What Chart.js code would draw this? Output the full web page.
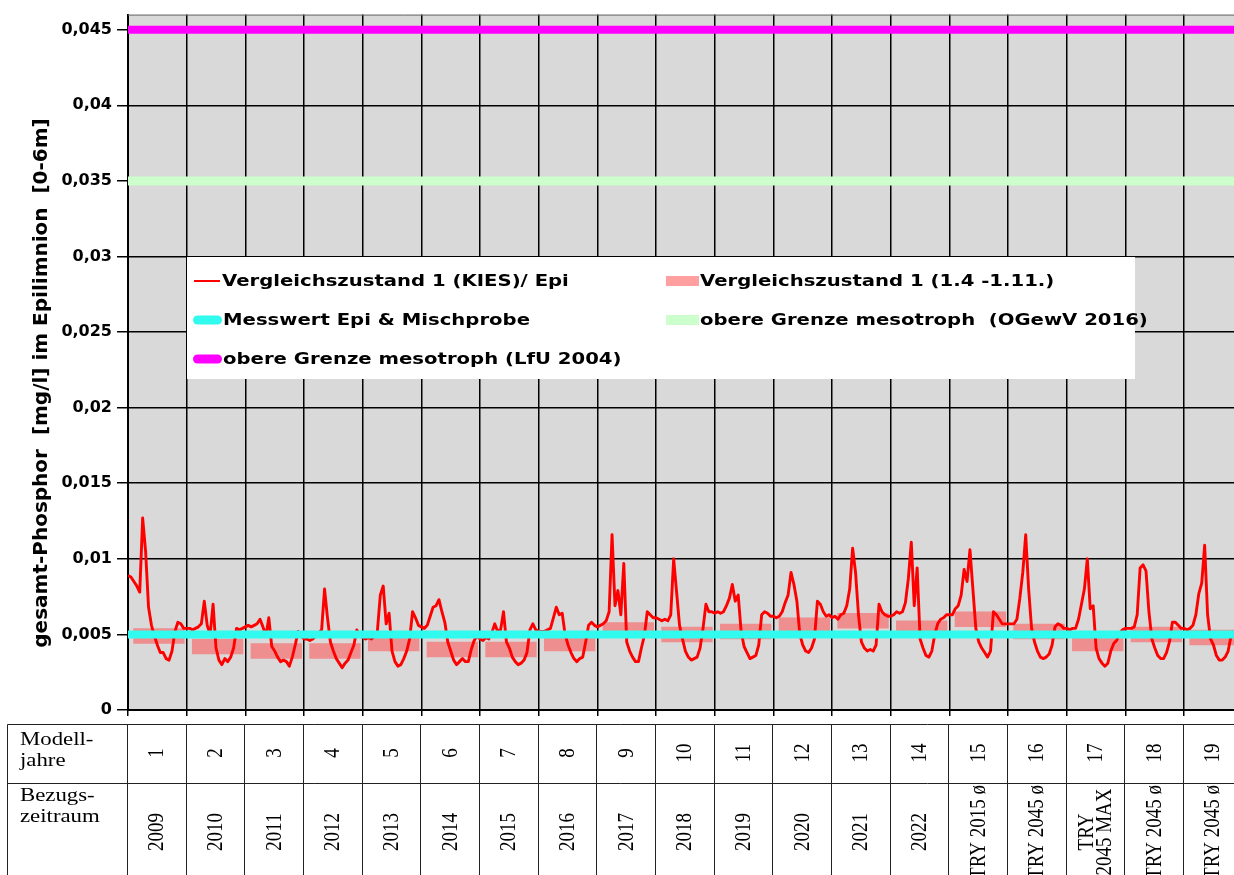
<!DOCTYPE html>
<html><head><meta charset="utf-8">
<script src="https://cdn.jsdelivr.net/npm/chart.js@4.4.1/dist/chart.umd.min.js"></script>
<style>html,body{margin:0;padding:0;background:#fff;overflow:hidden}canvas{display:block}</style>
</head><body>
<canvas id="c" width="1234" height="875" style="width:1234px;height:875px"></canvas>
<script>
// ---------- DATA ----------
const modelYears = ['1','2','3','4','5','6','7','8','9','10','11','12','13','14','15','16','17','18','19'];
const periods = ['2009','2010','2011','2012','2013','2014','2015','2016','2017','2018','2019','2020','2021','2022',
  'TRY 2015 ø','TRY 2045 ø','TRY\n2045 MAX','TRY 2045 ø','TRY 2045 ø'];
const rowLabels = [['Modell-','jahre'],['Bezugs-','zeitraum']];

// Vergleichszustand 1 (KIES)/ Epi  – 20 readings per model year [mg/l]
const epi = [
  [0.0089,0.0088,0.0085,0.0082,0.0078,0.0127,0.0105,0.0068,0.0056,0.0049,0.0043,0.0038,0.0038,0.0034,0.0033,0.0039,0.0052,0.0058,0.0057,0.0054],
  [0.0054,0.0054,0.0053,0.0054,0.0055,0.0057,0.0072,0.0056,0.0050,0.0070,0.0041,0.0033,0.0030,0.0034,0.0032,0.0035,0.0041,0.0054,0.0053,0.0054],
  [0.0055,0.0056,0.0055,0.0056,0.0057,0.0060,0.0055,0.0049,0.0061,0.0042,0.0039,0.0035,0.0032,0.0033,0.0032,0.0029,0.0035,0.0043,0.0052,0.0049],
  [0.0047,0.0047,0.0046,0.0047,0.0049,0.0051,0.0053,0.0080,0.0061,0.0045,0.0039,0.0034,0.0031,0.0028,0.0031,0.0033,0.0038,0.0043,0.0053,0.0049],
  [0.0048,0.0047,0.0048,0.0047,0.0049,0.0052,0.0076,0.0082,0.0057,0.0064,0.0039,0.0032,0.0029,0.0030,0.0034,0.0039,0.0047,0.0065,0.0061,0.0056],
  [0.0055,0.0054,0.0056,0.0062,0.0068,0.0069,0.0073,0.0065,0.0058,0.0045,0.0039,0.0033,0.0030,0.0032,0.0034,0.0032,0.0032,0.0040,0.0046,0.0049],
  [0.0047,0.0046,0.0048,0.0047,0.0051,0.0057,0.0052,0.0053,0.0065,0.0045,0.0041,0.0035,0.0032,0.0030,0.0031,0.0033,0.0038,0.0053,0.0057,0.0053],
  [0.0052,0.0052,0.0052,0.0053,0.0054,0.0061,0.0068,0.0063,0.0064,0.0050,0.0043,0.0038,0.0034,0.0032,0.0034,0.0035,0.0045,0.0056,0.0058,0.0056],
  [0.0055,0.0056,0.0057,0.0059,0.0065,0.0116,0.0069,0.0079,0.0063,0.0097,0.0045,0.0039,0.0035,0.0032,0.0032,0.0041,0.0049,0.0065,0.0063,0.0061],
  [0.0061,0.0060,0.0059,0.0060,0.0059,0.0063,0.0100,0.0078,0.0056,0.0047,0.0039,0.0035,0.0033,0.0034,0.0035,0.0041,0.0054,0.0070,0.0065,0.0065],
  [0.0064,0.0065,0.0064,0.0065,0.0069,0.0074,0.0083,0.0072,0.0076,0.0052,0.0042,0.0038,0.0034,0.0035,0.0036,0.0043,0.0063,0.0065,0.0064,0.0062],
  [0.0062,0.0061,0.0062,0.0065,0.0071,0.0076,0.0091,0.0083,0.0072,0.0050,0.0043,0.0039,0.0038,0.0041,0.0047,0.0072,0.0070,0.0065,0.0062,0.0063],
  [0.0061,0.0062,0.0060,0.0063,0.0064,0.0069,0.0080,0.0107,0.0091,0.0063,0.0045,0.0041,0.0039,0.0040,0.0039,0.0043,0.0070,0.0065,0.0063,0.0062],
  [0.0062,0.0063,0.0065,0.0064,0.0065,0.0071,0.0087,0.0111,0.0069,0.0094,0.0047,0.0041,0.0036,0.0035,0.0039,0.0050,0.0057,0.0060,0.0061,0.0063],
  [0.0063,0.0063,0.0067,0.0069,0.0076,0.0093,0.0085,0.0106,0.0080,0.0054,0.0045,0.0041,0.0038,0.0035,0.0039,0.0065,0.0063,0.0060,0.0057,0.0057],
  [0.0057,0.0057,0.0057,0.0060,0.0074,0.0091,0.0116,0.0080,0.0054,0.0045,0.0039,0.0035,0.0034,0.0035,0.0037,0.0043,0.0055,0.0057,0.0056,0.0054],
  [0.0054,0.0053,0.0054,0.0054,0.0060,0.0070,0.0080,0.0100,0.0067,0.0069,0.0041,0.0034,0.0031,0.0029,0.0031,0.0039,0.0044,0.0046,0.0051,0.0053],
  [0.0054,0.0054,0.0054,0.0055,0.0063,0.0094,0.0096,0.0092,0.0065,0.0047,0.0041,0.0036,0.0034,0.0034,0.0038,0.0045,0.0058,0.0058,0.0056,0.0054],
  [0.0054,0.0053,0.0054,0.0056,0.0063,0.0077,0.0084,0.0109,0.0063,0.0047,0.0043,0.0036,0.0033,0.0033,0.0035,0.0039,0.0049,0.0052]
];
const samplesPerYear = 20;

// Vergleichszustand 1 (1.4 -1.11.) – seasonal mean per model year [mg/l]
const seasonMean = [0.0049,0.0042,0.0039,0.0039,0.0044,0.0040,0.0040,0.0044,0.0053,0.0050,0.0052,0.0056,0.0059,0.0054,0.0060,0.0052,0.0044,0.0050,0.0048];
const seasonSpan = [0.09, 0.965];   // part of the model year covered

const messwert = 0.005;             // Messwert Epi & Mischprobe
const grenzeOGewV = 0.035;          // obere Grenze mesotroph (OGewV 2016)
const grenzeLfU = 0.045;            // obere Grenze mesotroph (LfU 2004)

const yTitle = 'gesamt-Phosphor  [mg/l] im Epilimnion  [0-6m]';
const xVisibleMax = 18.85;

// ---------- build library data ----------
const epiPoints = [];
epi.forEach((row, yr) => row.forEach((v, k) => epiPoints.push({x: yr + k / samplesPerYear, y: v})));
const seasonPoints = [];
seasonMean.forEach((v, yr) => {
  seasonPoints.push({x: yr + seasonSpan[0], y: v}, {x: yr + seasonSpan[1], y: v}, {x: yr + 0.99, y: null});
});
const flat = v => [{x: 0, y: v}, {x: modelYears.length, y: v}];

const datasets = [
  {label: 'Messwert Epi & Mischprobe', data: flat(messwert), borderColor: '#30fbee', borderWidth: 8, order: 0, sw: {w: 9, cap: 'round'}},
  {label: 'obere Grenze mesotroph (LfU 2004)', data: flat(grenzeLfU), borderColor: '#ff00ff', borderWidth: 8, order: 1, sw: {w: 9, cap: 'round'}},
  {label: 'obere Grenze mesotroph  (OGewV 2016)', data: flat(grenzeOGewV), borderColor: '#ccffcc', borderWidth: 9, order: 2, sw: {w: 10, cap: 'butt'}},
  {label: 'Vergleichszustand 1 (KIES)/ Epi', data: epiPoints, borderColor: '#ff0000', borderWidth: 2.9, borderJoinStyle: 'round', order: 3, sw: {w: 2, cap: 'butt'}},
  {label: 'Vergleichszustand 1 (1.4 -1.11.)', data: seasonPoints, borderColor: 'rgba(255,80,80,0.55)', borderWidth: 15.5, spanGaps: false, order: 4, sw: {w: 10, cap: 'butt'}}
];

// legend placement: [dataset index, swatch x0, swatch x1, text x, row y]
const legendLayout = [
  [3, 194, 220, 222, 281], [4, 666, 699, 700, 281],
  [0, 193, 222, 223, 320], [2, 666, 699, 700, 320],
  [1, 193, 222, 223, 359]
];

function sText(ctx, t, x, y, sx, align) {
  ctx.save(); ctx.translate(x, y); ctx.scale(sx, 1); ctx.textAlign = align; ctx.fillText(t, 0, 0); ctx.restore();
}

const decor = {
  id: 'decor',
  beforeDraw(chart) {
    const {ctx, chartArea: a} = chart;
    ctx.save();
    ctx.fillStyle = '#fff'; ctx.fillRect(0, 0, chart.width, chart.height);
    ctx.fillStyle = '#d9d9d9'; ctx.fillRect(a.left, a.top, a.right - a.left, a.bottom - a.top);
    ctx.restore();
  },
  afterDatasetsDraw(chart) {
    const {ctx, chartArea: a} = chart;
    ctx.save();
    ctx.strokeStyle = '#666'; ctx.lineWidth = 1;
    ctx.beginPath(); ctx.moveTo(a.left, a.top + 0.5); ctx.lineTo(a.right, a.top + 0.5); ctx.stroke();
    ctx.fillStyle = '#fff';
    ctx.fillRect(187, 257, 948, 122);
    ctx.font = 'bold 15px "DejaVu Sans"';
    ctx.textBaseline = 'middle';
    legendLayout.forEach(([i, s0, s1, tx, ry]) => {
      const ds = chart.data.datasets[i];
      ctx.strokeStyle = ds.borderColor; ctx.lineWidth = ds.sw.w; ctx.lineCap = ds.sw.cap;
      const inset = ds.sw.cap === 'round' ? ds.sw.w / 2 : 0;
      ctx.beginPath(); ctx.moveTo(s0 + inset, ry); ctx.lineTo(s1 - inset, ry); ctx.stroke();
      ctx.fillStyle = '#000';
      sText(ctx, ds.label, tx, ry + 1, 1.31, 'left');
    });
    ctx.restore();
  },
  afterDraw(chart) {
    const {ctx} = chart;
    const xs = chart.scales.x;
    ctx.save();
    ctx.translate(42, 383); ctx.rotate(-Math.PI / 2);
    ctx.font = 'bold 20px "DejaVu Sans"'; ctx.fillStyle = '#000';
    ctx.textAlign = 'center'; ctx.textBaseline = 'middle';
    ctx.fillText(yTitle, 0, 0);
    ctx.restore();

    // table
    const top = 724.5, mid = 783.5, bot = 900, left = 7.5, sx = 1.2;
    ctx.save();
    ctx.strokeStyle = '#222'; ctx.lineWidth = 1;
    ctx.beginPath();
    ctx.moveTo(left, top); ctx.lineTo(chart.width, top);
    ctx.moveTo(left, mid); ctx.lineTo(chart.width, mid);
    ctx.moveTo(left, top); ctx.lineTo(left, bot);
    for (let i = 0; i <= modelYears.length; i++) {
      const x = Math.round(xs.getPixelForValue(i)) - 0.5;
      ctx.moveTo(x, top); ctx.lineTo(x, bot);
    }
    ctx.stroke();
    ctx.fillStyle = '#000';
    ctx.font = '19px "Liberation Serif"'; ctx.textBaseline = 'alphabetic';
    sText(ctx, rowLabels[0][0], 20, 745, sx, 'left');
    sText(ctx, rowLabels[0][1], 20, 766, sx, 'left');
    sText(ctx, rowLabels[1][0], 20, 801, sx, 'left');
    sText(ctx, rowLabels[1][1], 20, 822, sx, 'left');
    ctx.textAlign = 'center'; ctx.textBaseline = 'middle';
    modelYears.forEach((m, i) => {
      const cx = (xs.getPixelForValue(i) + xs.getPixelForValue(i + 1)) / 2;
      ctx.save(); ctx.translate(cx, 753); ctx.scale(sx, 1); ctx.rotate(-Math.PI / 2);
      ctx.fillText(m, 0, 0);
      ctx.restore();
      const lines = periods[i].split('\n');
      ctx.save(); ctx.translate(cx, 832); ctx.scale(sx, 1); ctx.rotate(-Math.PI / 2);
      lines.forEach((ln, j) => ctx.fillText(ln, 0, (j - (lines.length - 1) / 2) * 15));
      ctx.restore();
    });
    ctx.restore();
  }
};

const fmt = v => v === 0 ? '0' : v.toFixed(3).replace(/0+$/, '').replace('.', ',');

new Chart(document.getElementById('c'), {
  type: 'line',
  data: {datasets},
  options: {
    responsive: false, animation: false, devicePixelRatio: 1,
    layout: {padding: {top: 14, left: 0, right: 0, bottom: 0}},
    plugins: {legend: {display: false}, tooltip: {enabled: false}},
    elements: {point: {radius: 0}, line: {tension: 0, borderCapStyle: 'butt'}},
    scales: {
      x: {
        type: 'linear', min: 0, max: xVisibleMax,
        afterFit: s => { s.height = 165; },
        ticks: {display: false, stepSize: 1, includeBounds: false},
        grid: {color: '#000', lineWidth: 1.5, tickLength: 6},
        border: {color: '#000', width: 2}
      },
      y: {
        type: 'linear', min: 0, max: 0.046,
        afterFit: s => { s.width = 128; },
        ticks: {stepSize: 0.005, includeBounds: false, padding: 5, color: '#000',
          font: {family: 'DejaVu Sans', size: 16, weight: 'bold'}, callback: fmt},
        grid: {color: '#000', lineWidth: 1.5, tickLength: 11},
        border: {color: '#000', width: 2}
      }
    }
  },
  plugins: [decor]
});
</script>
</body></html>
